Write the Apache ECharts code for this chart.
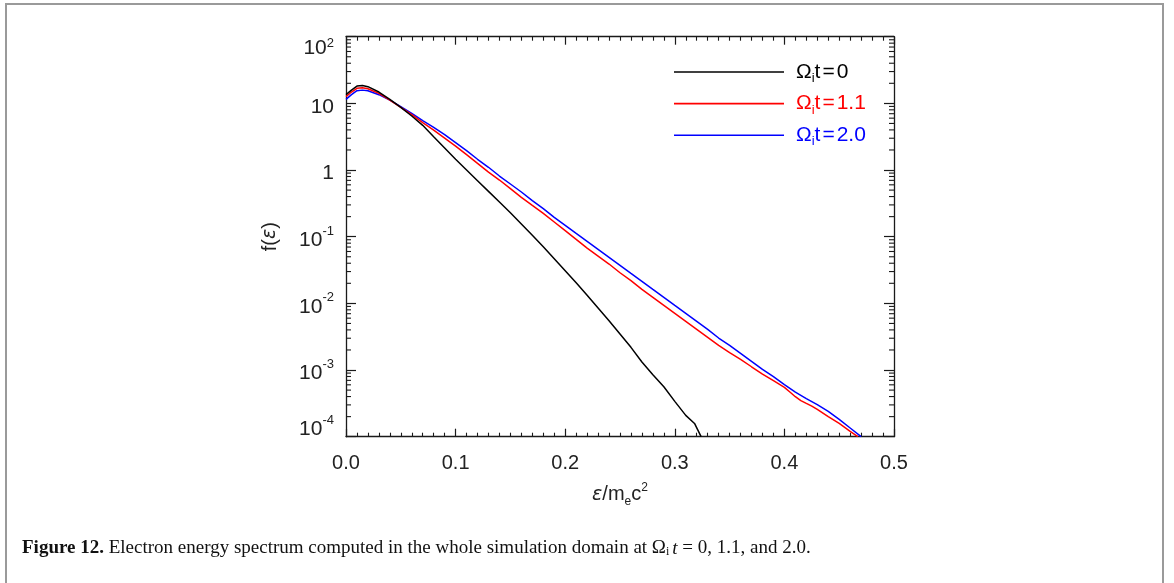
<!DOCTYPE html>
<html><head><meta charset="utf-8">
<script src="https://cdn.jsdelivr.net/npm/echarts@6/dist/echarts.min.js"></script>
<style>
html,body{margin:0;padding:0;background:#fff;}
#frame{position:absolute;left:5px;top:3px;width:1155px;height:640px;border:2px solid #9a9a9a;border-bottom:none;}
#c{position:absolute;left:0;top:0;width:1174px;height:583px;}
</style></head><body>
<div id="frame"></div>
<div id="c"></div>
<script>
// ---- data ----
const seriesNames = ['t0', 't11', 't20'];
const legendLabels = ['0', '1.1', '2.0'];
const seriesColors = ['#000000', '#ff0000', '#0000ff'];

const epsBlack = [0, 0.005, 0.01, 0.015, 0.02, 0.03, 0.04, 0.05, 0.06, 0.07, 0.08, 0.09, 0.10, 0.11, 0.12, 0.13, 0.14, 0.15, 0.16, 0.17, 0.18, 0.19, 0.20, 0.21, 0.22, 0.23, 0.24, 0.25, 0.26, 0.27, 0.28, 0.29, 0.30, 0.31, 0.318, 0.324];
const fBlack = [13.5, 15.8, 18.2, 18.6, 17.8, 14.8, 11.5, 8.71, 6.46, 4.68, 3.16, 2.14, 1.45, 1.00, 0.692, 0.479, 0.331, 0.229, 0.155, 0.105, 0.0708, 0.0468, 0.0309, 0.0204, 0.0132, 8.51e-3, 5.50e-3, 3.47e-3, 2.19e-3, 1.32e-3, 8.51e-4, 5.62e-4, 3.39e-4, 2.09e-4, 1.58e-4, 1.0e-4];

const epsRed = [0, 0.005, 0.01, 0.015, 0.02, 0.03, 0.04, 0.05, 0.06, 0.07, 0.08, 0.09, 0.10, 0.11, 0.12, 0.13, 0.14, 0.15, 0.16, 0.17, 0.18, 0.19, 0.20, 0.21, 0.22, 0.23, 0.24, 0.25, 0.26, 0.27, 0.28, 0.29, 0.30, 0.31, 0.32, 0.33, 0.34, 0.35, 0.36, 0.37, 0.38, 0.39, 0.40, 0.405, 0.41, 0.415, 0.42, 0.425, 0.43, 0.44, 0.45, 0.455, 0.46, 0.467];
const fRed = [12.6, 14.8, 16.8, 17.2, 16.6, 14.1, 11.2, 8.71, 6.76, 5.13, 3.98, 3.02, 2.29, 1.70, 1.26, 0.933, 0.708, 0.525, 0.389, 0.295, 0.224, 0.166, 0.123, 0.0912, 0.0676, 0.0513, 0.0389, 0.0288, 0.0219, 0.0162, 0.0123, 9.33e-3, 7.08e-3, 5.37e-3, 4.07e-3, 3.09e-3, 2.34e-3, 1.82e-3, 1.45e-3, 1.12e-3, 8.71e-4, 6.92e-4, 5.50e-4, 4.68e-4, 3.98e-4, 3.47e-4, 3.16e-4, 2.88e-4, 2.57e-4, 2.00e-4, 1.58e-4, 1.38e-4, 1.20e-4, 1.0e-4];

const epsBlue = [0, 0.005, 0.01, 0.015, 0.02, 0.03, 0.04, 0.05, 0.06, 0.07, 0.08, 0.09, 0.10, 0.11, 0.12, 0.13, 0.14, 0.15, 0.16, 0.17, 0.18, 0.19, 0.20, 0.21, 0.22, 0.23, 0.24, 0.25, 0.26, 0.27, 0.28, 0.29, 0.30, 0.31, 0.32, 0.33, 0.34, 0.35, 0.36, 0.37, 0.38, 0.39, 0.40, 0.41, 0.42, 0.43, 0.44, 0.45, 0.46, 0.47];
const fBlue = [11.5, 13.5, 15.5, 15.8, 15.5, 13.5, 11.2, 8.91, 7.08, 5.50, 4.37, 3.39, 2.57, 1.95, 1.45, 1.10, 0.813, 0.617, 0.468, 0.347, 0.263, 0.195, 0.148, 0.112, 0.0851, 0.0646, 0.0490, 0.0372, 0.0282, 0.0214, 0.0162, 0.0123, 9.33e-3, 7.08e-3, 5.37e-3, 4.07e-3, 3.02e-3, 2.34e-3, 1.78e-3, 1.35e-3, 1.02e-3, 7.94e-4, 6.03e-4, 4.68e-4, 3.72e-4, 3.02e-4, 2.40e-4, 1.82e-4, 1.35e-4, 1.0e-4];

// axis ranges / ticks
const xMin = 0, xMax = 0.5, xInterval = 0.1;
const yMin = 1e-4, yMax = 100;
const yDecades = [-4, -3, -2, -1, 0, 1];
const yMinorMultipliers = [2, 3, 4, 5, 6, 7, 8, 9];
const captionText = 'Electron energy spectrum computed in the whole simulation domain at ';

// ---- build ----
const zip = (a, b) => a.map((x, i) => [x, b[i]]);
const seriesData = [zip(epsBlack, fBlack), zip(epsRed, fRed), zip(epsBlue, fBlue)];
const minorY = [];
yDecades.forEach(d => yMinorMultipliers.forEach(m => minorY.push([xMin, m * Math.pow(10, d)])));

const labelFont = 'Liberation Sans';
const axisColor = '#1a1a1a';
const textColor = '#222';

function yLabel(v) {
  const e = Math.round(Math.log10(v));
  const expTxt = (e < 0 ? '-' : '') + Math.abs(e);
  if (v <= yMin * 1.0001) return '{lo|10}{los|' + expTxt + '}';
  if (v >= yMax * 0.9999) return '10{sup|' + expTxt + '}';
  if (e === 0) return '{m|1}';
  if (e === 1) return '{m|10}';
  return '{m|10}{sup|' + expTxt + '}';
}

const chart = echarts.init(document.getElementById('c'), null, {renderer: 'canvas'});
const serif = 'Liberation Serif';
const option = {
  animation: false,
  backgroundColor: 'transparent',
  title: {
    left: 17, top: 534,
    text: '{b|Figure 12.}{n| ' + captionText + '}{m|Ω}{ms|i}{mi|t}{n| = 0, 1.1, and 2.0.}',
    textStyle: {
      fontFamily: serif, fontSize: 19, color: '#111', fontWeight: 'normal',
      rich: {
        b: {fontFamily: serif, fontWeight: 'bold', fontSize: 19, color: '#111'},
        n: {fontFamily: serif, fontSize: 19, color: '#111'},
        m: {fontFamily: serif, fontSize: 19, color: '#111'},
        ms: {fontFamily: serif, fontSize: 12, color: '#111', verticalAlign: 'bottom', lineHeight: 14},
        mi: {fontFamily: serif, fontStyle: 'italic', fontSize: 19, color: '#111', padding: [0, 0, 0, 3]}
      }
    }
  },
  grid: {left: 346, top: 36.7, right: 280, bottom: 146.3, containLabel: false, outerBoundsMode: 'none'},
  legend: {
    orient: 'vertical', left: 669, top: 54,
    icon: 'rect', itemWidth: 110, itemHeight: 1.6, itemGap: 5.6,
    data: seriesNames.map((n, i) => ({name: n, textStyle: {color: seriesColors[i]}})),
    formatter: name => '{g|}{o|Ω}{s|i}{o|t}{eq|=}{o|' + legendLabels[seriesNames.indexOf(name)] + '}',
    textStyle: {
      fontFamily: labelFont, fontSize: 21, lineHeight: 26,
      rich: {
        g: {width: 7},
        o: {fontFamily: labelFont, fontSize: 21, lineHeight: 26},
        eq: {fontFamily: labelFont, fontSize: 21, lineHeight: 26, padding: [0, 2, 0, 2]},
        s: {fontFamily: labelFont, fontSize: 13, lineHeight: 8, verticalAlign: 'bottom'}
      }
    },
    selectedMode: false
  },
  xAxis: [{
    type: 'value', min: xMin, max: xMax, interval: xInterval,
    name: '{e|ε}/m{sub|e}c{sup|2}', nameLocation: 'middle', nameGap: 45,
    nameTextStyle: {
      fontFamily: labelFont, fontSize: 20, color: textColor, lineHeight: 26,
      rich: {
        e: {fontFamily: 'DejaVu Sans', fontStyle: 'italic', fontSize: 19, color: textColor, lineHeight: 26},
        sub: {fontFamily: labelFont, fontSize: 12, color: textColor, lineHeight: 10, verticalAlign: 'bottom'},
        sup: {fontFamily: labelFont, fontSize: 12, color: textColor, lineHeight: 16, verticalAlign: 'top'}
      }
    },
    axisLine: {onZero: false, lineStyle: {color: axisColor, width: 1.3}},
    axisTick: {inside: true, length: 8, lineStyle: {color: axisColor, width: 1.2}},
    minorTick: {show: true, splitNumber: 10, length: 4, lineStyle: {color: axisColor, width: 1.1}},
    splitLine: {show: false}, minorSplitLine: {show: false},
    axisLabel: {fontFamily: labelFont, fontSize: 20, color: textColor, margin: 17, formatter: v => v.toFixed(1)}
  }, {
    type: 'value', position: 'top', min: xMin, max: xMax, interval: xInterval,
    axisLine: {onZero: false, lineStyle: {color: axisColor, width: 1.3}},
    axisTick: {inside: true, length: 8, lineStyle: {color: axisColor, width: 1.2}},
    minorTick: {show: true, splitNumber: 10, length: 4, lineStyle: {color: axisColor, width: 1.1}},
    splitLine: {show: false}, axisLabel: {show: false}
  }],
  yAxis: [{
    type: 'log', logBase: 10, min: yMin, max: yMax,
    name: 'f({e|ε})', nameLocation: 'middle', nameGap: 66, nameRotate: 90,
    nameTextStyle: {
      fontFamily: labelFont, fontSize: 20, color: textColor,
      rich: {e: {fontFamily: 'DejaVu Sans', fontStyle: 'italic', fontSize: 19, color: textColor}}
    },
    axisLine: {onZero: false, lineStyle: {color: axisColor, width: 1.3}},
    axisTick: {inside: true, length: 10, lineStyle: {color: axisColor, width: 1.2}},
    splitLine: {show: false},
    axisLabel: {
      fontFamily: labelFont, fontSize: 21, color: textColor, margin: 12, lineHeight: 24,
      verticalAlignMaxLabel: 'top',
      formatter: yLabel,
      rich: {
        m: {fontFamily: labelFont, fontSize: 21, color: textColor, lineHeight: 24, padding: [7, 0, 0, 0]},
        sup: {fontFamily: labelFont, fontSize: 13, lineHeight: 16, verticalAlign: 'top', color: textColor},
        lo: {fontFamily: labelFont, fontSize: 21, color: textColor, lineHeight: 24, padding: [0, 0, 14, 0]},
        los: {fontFamily: labelFont, fontSize: 13, color: textColor, lineHeight: 16, padding: [0, 0, 32, 0]}
      }
    }
  }, {
    type: 'log', logBase: 10, min: yMin, max: yMax, position: 'right',
    axisLine: {onZero: false, lineStyle: {color: axisColor, width: 1.3}},
    axisTick: {inside: true, length: 10, lineStyle: {color: axisColor, width: 1.2}},
    splitLine: {show: false}, axisLabel: {show: false}
  }],
  series: seriesNames.map((n, i) => ({
    name: n, type: 'line', data: seriesData[i], xAxisIndex: 0, yAxisIndex: 0,
    symbol: 'none', showSymbol: false, smooth: false,
    lineStyle: {color: seriesColors[i], width: 1.5}, itemStyle: {color: seriesColors[i]},
    z: 5 - i
  })).concat([{
    type: 'custom', name: 'minorY', silent: true, clip: false, z: 6,
    xAxisIndex: 0, yAxisIndex: 0,
    data: minorY, encode: {x: 0, y: 1},
    renderItem: (params, api) => {
      const v = api.value(1);
      const l = api.coord([xMin, v]);
      const r = api.coord([xMax, v]);
      const st = {stroke: axisColor, lineWidth: 1.1};
      return {type: 'group', children: [
        {type: 'line', shape: {x1: l[0], y1: l[1], x2: l[0] + 5, y2: l[1]}, style: st},
        {type: 'line', shape: {x1: r[0], y1: r[1], x2: r[0] - 5, y2: r[1]}, style: st}
      ]};
    }
  }])
};
chart.setOption(option);
</script>
</body></html>
